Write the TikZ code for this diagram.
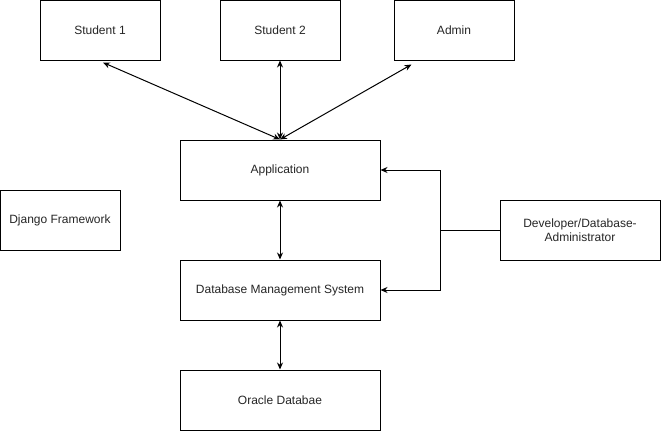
\documentclass[tikz,border=0pt]{standalone}
\usepackage{fontspec}
\setmainfont{Liberation Sans}
\usetikzlibrary{arrows.meta,calc}
\begin{document}
\begin{tikzpicture}[x=1pt,y=-1pt,
  box/.style={draw=black,line width=1pt,fill=white,inner sep=0pt,align=center,
    font=\fontsize{12}{14}\selectfont,text=black!85},
  conn/.style={line width=1pt,{Stealth[length=7pt,width=6pt]}-{Stealth[length=7pt,width=6pt]}},
  oneway/.style={line width=1pt,-{Stealth[length=7pt,width=6pt]}}]
\useasboundingbox (0,0) rectangle (661,431);
\node[box,minimum width=120pt,minimum height=60pt] (s1) at (100,30) {Student 1};
\node[box,minimum width=120pt,minimum height=60pt] (s2) at (280,30) {Student 2};
\node[box,minimum width=120pt,minimum height=60pt] (adm) at (454,30) {Admin};
\node[box,minimum width=200pt,minimum height=60pt] (app) at (280,170) {Application};
\node[box,minimum width=120pt,minimum height=60pt] (dj) at (60,220) {Django Framework};
\node[box,minimum width=200pt,minimum height=60pt] (dbms) at (280,290) {Database Management System};
\node[box,minimum width=200pt,minimum height=60pt] (ora) at (280,400) {Oracle Databae};
\node[box,minimum width=160pt,minimum height=60pt] (dev) at (580,230) {Developer/Database-\\Administrator};
\coordinate (s1end) at ($(s1.south)+(3,2)$);
\coordinate (admend) at ($(adm.south west)+(18,4)$);
\coordinate (jn) at (440,230);
\draw[conn] (s1end) -- (app.north);
\draw[conn] (s2.south) -- (app.north);
\draw[conn] (admend) -- (app.north);
\draw[conn] (app.south) -- (dbms.north);
\draw[conn] (dbms.south) -- (ora.north);
\draw[line width=1pt] (dev.west) -- (jn);
\draw[oneway] (jn) |- (app.east);
\draw[oneway] (jn) |- (dbms.east);
\end{tikzpicture}
\end{document}
